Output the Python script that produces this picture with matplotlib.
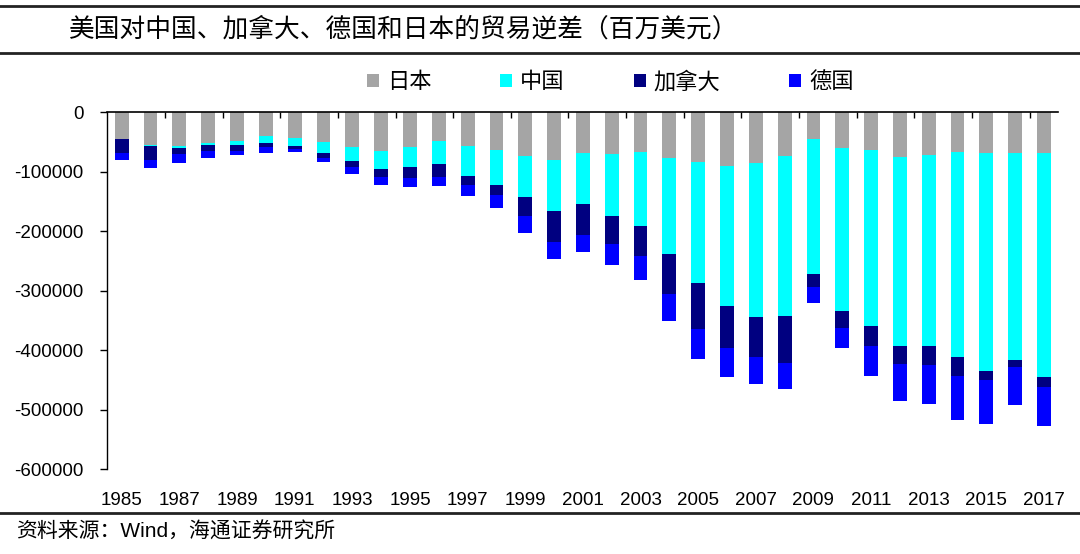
import numpy as np
import matplotlib.pyplot as plt
from matplotlib.patches import Patch
from matplotlib.ticker import FixedLocator, FuncFormatter

plt.rcParams['font.family'] = ['Liberation Sans', 'Noto Sans CJK SC', 'DejaVu Sans']

# ----- 数据：美国对各国贸易逆差（百万美元，负值） -----
years = list(range(1985, 2018))
japan = [-45500, -55100, -56200, -51700, -48900, -39900, -43300, -49500, -59000, -65200,
         -58500, -47800, -56200, -64100, -73100, -80900, -69100, -70800, -66300, -76400,
         -83200, -90200, -84900, -74200, -45500, -60100, -63500, -75900, -72000, -66300,
         -69100, -69100, -69100]
china = [-100, -1700, -3400, -3400, -6200, -11800, -13500, -18500, -23000, -30400,
         -33100, -39300, -50600, -57300, -69700, -84900, -84400, -102900, -124300, -162500,
         -203500, -234800, -259100, -268700, -226600, -273800, -295700, -316500, -321500, -344600,
         -366000, -347400, -376100]
canada = [-22000, -23600, -10700, -10100, -9500, -6800, -5000, -9600, -9600, -12900,
          -18000, -21900, -14600, -16900, -32000, -51700, -52200, -47200, -51700, -66300,
          -77600, -71700, -66900, -78100, -20800, -29200, -33700, -31400, -31500, -32600,
          -14600, -11300, -16900]
germany = [-11800, -14000, -15700, -11800, -7900, -10100, -5100, -6700, -11300, -14000,
           -15200, -15200, -19100, -22500, -28100, -29300, -29300, -36500, -39300, -46100,
           -51100, -47700, -45500, -43300, -28100, -33800, -49500, -60700, -65700, -74200,
           -74200, -64600, -64600]

names = ['日本', '中国', '加拿大', '德国']
colors = ['#A5A5A5', '#00FFFF', '#000080', '#0000FF']
series = [japan, china, canada, germany]

fig = plt.figure(figsize=(10.8, 5.54), dpi=100)
ax = fig.add_axes([0.0994, 0.1529, 0.8806, 0.6444])

x = np.arange(len(years))
bottom = np.zeros(len(years))
for vals, c in zip(series, colors):
    vals = np.array(vals, dtype=float)
    ax.bar(x, vals, width=0.48, bottom=bottom, color=c, linewidth=0)
    bottom += vals

ax.set_xlim(-0.5, len(years) - 0.5)
ax.set_ylim(-600000, 0)
ax.set_yticks(np.arange(-600000, 1, 100000))
ax.yaxis.set_major_formatter(FuncFormatter(lambda v, p: '%d' % v))
ax.tick_params(axis='y', direction='out', length=5, width=1, labelsize=13.5, pad=12)

# x 标签放在底部，刻度线在零线上
ax.set_xticks(x[::2])
ax.set_xticklabels([str(y) for y in years[::2]])
ax.tick_params(axis='x', which='major', length=0, labelsize=13.5, pad=16)
ax.xaxis.set_minor_locator(FixedLocator(np.arange(1.5, len(years) - 1, 2)))
ax.tick_params(axis='x', which='minor', top=True, bottom=False, direction='in', length=4, width=1)

for side in ['right', 'bottom']:
    ax.spines[side].set_visible(False)
ax.spines['top'].set_linewidth(1.2)
ax.spines['left'].set_linewidth(1)

# ----- 图例 -----
handles = [Patch(facecolor=c, edgecolor='none') for c in colors]
fig.legend(handles, names, loc='center', bbox_to_anchor=(0.565, 0.852), ncol=4, frameon=False,
           prop={'family': ['Noto Sans CJK SC'], 'size': 16},
           handlelength=0.55, handleheight=0.55, handletextpad=0.35, columnspacing=3.1)

# ----- 标题与来源 -----
fig.text(0.064, 0.946, '美国对中国、加拿大、德国和日本的贸易逆差（百万美元）',
         fontsize=18.5, family=['Noto Sans CJK SC'], va='center', ha='left')
fig.text(0.015, 0.041, '资料来源：Wind，海通证券研究所',
         fontsize=15, family=['Liberation Sans', 'Noto Sans CJK SC'], va='center', ha='left')

for yy in [1 - 5.7 / 554, 1 - 52.7 / 554, 1 - 513.3 / 554]:
    fig.add_artist(plt.Line2D([0, 1], [yy, yy], transform=fig.transFigure, color='#222222', lw=2))

fig.savefig('out.png', dpi=100)
